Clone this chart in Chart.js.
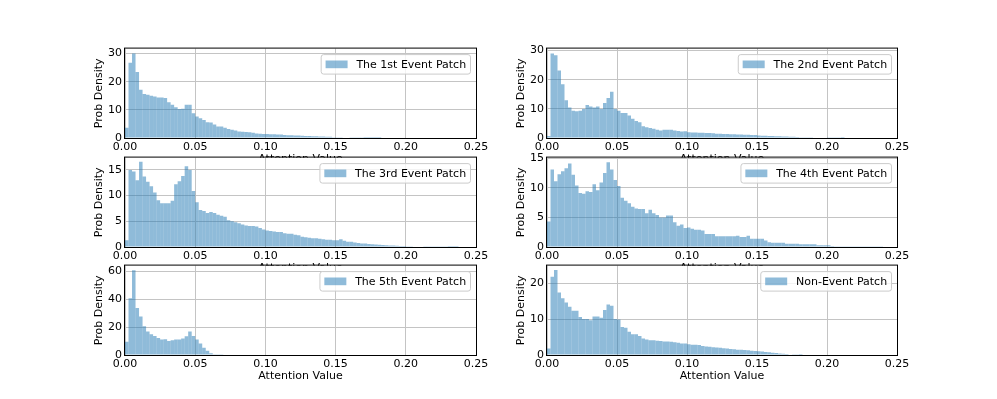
<!DOCTYPE html>
<html><head><meta charset="utf-8">
<script src="https://cdn.jsdelivr.net/npm/chart.js@4/dist/chart.umd.min.js"></script>
<style>
html,body{margin:0;padding:0;background:#fff;}
#wrap{position:relative;width:997px;height:399px;overflow:hidden;background:#fff;}
canvas{position:absolute;}
</style></head><body><div id="wrap"></div>
<script>
// ---------- data ----------
const BIN_WIDTH = 0.0025;                 // histogram bin width (attention value)
const xTickLabels = ['0.00','0.05','0.10','0.15','0.20','0.25'];
const seriesLabels = ['The 1st Event Patch','The 2nd Event Patch','The 3rd Event Patch',
                      'The 4th Event Patch','The 5th Event Patch','Non-Event Patch'];
const yAxisTitle = 'Prob Density';
const xAxisTitle = 'Attention Value';

const patch1 = [3.6,26.7,30.0,23.4,17.1,15.6,15.4,15.0,14.7,14.4,14.4,14.2,12.7,11.8,10.9,10.3,10.4,11.8,11.8,8.8,
  7.6,7.0,6.4,5.6,5.5,4.8,4.1,4.1,3.6,3.2,2.9,2.7,2.3,2.2,2.1,2.0,1.9,1.6,1.5,1.4,
  1.4,1.3,1.3,1.2,1.2,1.1,1.0,1.0,0.9,0.9,0.8,0.7,0.7,0.6,0.6,0.5,0.5,0.4,0.4,0.3,
  0.3,0.25,0.2,0.15,0.12,0.1,0.08,0.05,0.04,0.03,0.02,0.02,0.01];
const patch2 = [0.7,29.0,28.4,23.2,18.5,13.0,10.5,9.4,9.2,9.4,10.0,11.3,10.8,10.5,10.8,10.0,12.0,13.7,15.9,10.0,
  9.4,8.6,8.6,7.7,6.6,5.8,5.4,4.0,3.7,3.4,3.2,2.8,2.6,2.8,2.8,2.8,2.6,2.4,2.2,2.3,
  2.0,1.9,1.9,1.8,1.8,1.7,1.7,1.6,1.5,1.5,1.4,1.4,1.3,1.3,1.2,1.2,1.1,1.1,1.0,1.0,
  0.9,0.8,0.8,0.7,0.7,0.6,0.6,0.5,0.5,0.4,0.4,0.35,0.3,0.3,0.25,0.25,0.2,0.2,0.2,0.15,
  0.12,0.1,0.08,0.05,0.03];
const patch3 = [1.3,15.0,14.7,13.0,16.6,13.7,12.7,11.8,10.6,9.1,8.5,8.5,8.5,9.0,12.2,12.8,13.8,15.7,15.0,10.9,
  8.7,7.2,7.0,6.6,6.8,6.6,6.3,6.1,5.9,5.2,5.0,4.8,4.6,4.4,4.2,4.1,4.1,4.0,3.7,3.4,
  3.2,3.1,3.0,2.9,2.9,2.7,2.6,2.6,2.4,2.3,2.0,1.9,1.8,1.7,1.7,1.6,1.5,1.4,1.4,1.3,
  1.3,1.5,1.2,1.0,1.0,0.9,0.8,0.7,0.7,0.6,0.55,0.5,0.45,0.4,0.35,0.3,0.27,0.25,0.2,0.18,
  0.15,0.13,0.12,0.1,0.08,0.07,0.06,0.05,0.04,0.04,0.03,0.03,0.02,0.02,0.01];
const patch4 = [4.3,13.1,11.1,12.3,12.8,13.3,14.1,12.2,10.4,9.1,9.0,9.4,9.3,10.6,9.6,10.9,12.5,14.3,13.1,11.3,
  10.3,8.3,7.8,7.4,6.8,6.5,6.4,6.4,5.7,6.3,5.7,5.4,5.0,5.0,5.3,5.3,4.2,3.6,3.8,3.2,
  3.3,3.1,2.9,2.9,2.8,2.2,2.2,2.2,1.8,1.8,1.8,1.8,1.8,1.8,1.9,1.7,1.7,1.9,1.4,1.4,
  1.4,1.4,1.1,0.8,0.7,0.7,0.7,0.7,0.55,0.55,0.55,0.55,0.45,0.45,0.45,0.45,0.45,0.3,0.3,0.3,
  0.3,0.15,0.05,0.05,0.05,0.05,0.05,0.05,0.05,0.05,0.05,0.05,0.05,0.05,0.05,0.05];
const patch5 = [9.4,40.7,60.7,33.6,27.5,20.5,16.9,14.8,13.6,12.2,11.1,11.3,10.1,10.6,11.1,11.1,11.8,13.4,16.9,13.6,
  11.1,8.2,5.2,3.1,1.2,0.5,0.2,0.1];
const nonEvent = [1.8,21.9,23.8,17.5,15.9,14.7,13.5,12.4,12.4,10.6,10.1,10.1,9.7,10.8,10.8,10.4,12.6,14.1,13.8,10.1,
  9.9,7.8,7.6,6.5,5.8,5.8,5.3,4.6,4.3,4.1,4.1,4.0,3.9,3.8,3.8,3.7,3.6,3.4,3.2,3.2,
  3.0,2.9,2.9,2.8,2.5,2.4,2.3,2.2,2.1,2.0,1.9,1.8,1.7,1.6,1.5,1.45,1.4,1.3,1.2,1.15,
  1.05,0.95,0.85,0.75,0.65,0.55,0.45,0.35,0.25,0.15,0.08,0.04,0.02];

const seriesValues = [patch1, patch2, patch3, patch4, patch5, nonEvent];
const yMax  = [31.75, 30.7, 17.4, 15.1, 64, 25];
const yStep = [10, 10, 5, 5, 20, 10];

// ---------- layout (pixels) ----------
const colLeft = [125, 547], colRight = [476, 897];
const rowTop = [47, 156, 264], rowBottom = [138, 247, 355];
const YW = 40, PT = 8, PR = 22, XH = 30;
const FONT = 'DejaVu Sans';
const barColor = 'rgba(31,119,180,0.5)';

const panelPlugin = {
  id: 'panel',
  beforeDraw(chart) {
    const {ctx, chartArea: a} = chart;
    ctx.save(); ctx.fillStyle = '#fff';
    ctx.fillRect(a.left, a.top, a.right - a.left, a.bottom - a.top);
    ctx.restore();
  },
  afterDraw(chart) {
    const {ctx, chartArea: a} = chart;
    ctx.save();
    // legend
    const ds = chart.data.datasets[0];
    const fs = 11;
    ctx.font = fs + 'px "' + FONT + '"';
    const tw = ctx.measureText(ds.label).width;
    const pad = 0.4 * fs, hl = 2 * fs, htp = 0.8 * fs, bap = 0.5 * fs;
    const bw = pad + hl + htp + tw + pad, bh = 19.5;
    const x1 = a.right - bap - bw, y1 = a.top + bap + 0.5;
    ctx.beginPath();
    ctx.roundRect(x1, y1, bw, bh, 2.5);
    ctx.fillStyle = 'rgba(255,255,255,0.8)'; ctx.fill();
    ctx.strokeStyle = '#cccccc'; ctx.lineWidth = 1; ctx.stroke();
    ctx.fillStyle = ds.backgroundColor;
    ctx.fillRect(x1 + pad, y1 + bh / 2 - 0.35 * fs, hl, 0.7 * fs);
    ctx.fillStyle = '#000'; ctx.textBaseline = 'middle'; ctx.textAlign = 'left';
    ctx.fillText(ds.label, x1 + pad + hl + htp, y1 + bh / 2 + 0.5);
    // frame
    ctx.strokeStyle = '#000'; ctx.lineWidth = 1;
    ctx.strokeRect(a.left - 0.5, a.top - 0.5, a.right - a.left + 1, a.bottom - a.top + 1);
    ctx.restore();
  }
};

const wrap = document.getElementById('wrap');
seriesValues.forEach((vals, i) => {
  const col = i % 2, row = Math.floor(i / 2);
  const L = colLeft[col], R = colRight[col], T = rowTop[row], B = rowBottom[row];
  const cv = document.createElement('canvas');
  const W = (R - L) + YW + PR, H = PT + (B - T) + XH;
  cv.width = W; cv.height = H;
  cv.style.width = W + 'px'; cv.style.height = H + 'px';
  cv.style.left = (L - YW) + 'px'; cv.style.top = (T - PT) + 'px';
  wrap.appendChild(cv);
  const pts = vals.map((v, k) => ({x: (k + 0.5) * BIN_WIDTH, y: v}));
  const tickFont = {family: FONT, size: 11};
  new Chart(cv, {
    type: 'bar',
    data: {datasets: [{label: seriesLabels[i], data: pts, backgroundColor: barColor,
      borderWidth: 0, inflateAmount: 0, barPercentage: 1.0, categoryPercentage: 1.0}]},
    options: {
      responsive: false, devicePixelRatio: 1, animation: false,
      layout: {padding: {left: 0, top: PT, right: PR, bottom: 0}},
      plugins: {legend: {display: false}, tooltip: {enabled: false}},
      scales: {
        x: {type: 'linear', min: 0, max: 0.25, offset: false, z: 1,
          grid: {offset: false, color: '#c4c4c4', lineWidth: 1, drawTicks: false},
          border: {display: false},
          afterBuildTicks: (s) => { s.ticks = xTickLabels.map(t => ({value: parseFloat(t)})); },
          ticks: {padding: 3, color: '#000', font: tickFont, maxRotation: 0, autoSkip: false,
            callback: (v, idx) => xTickLabels[idx]},
          title: {display: true, text: xAxisTitle, color: '#000', font: tickFont, padding: {top: 0, bottom: 2}},
          afterFit: (s) => { s.height = XH; }
        },
        y: {min: 0, max: yMax[i], z: 1,
          grid: {color: '#c4c4c4', lineWidth: 1, drawTicks: false},
          border: {display: false},
          ticks: {stepSize: yStep[i], includeBounds: false, padding: 3, color: '#000', font: tickFont},
          title: {display: true, text: yAxisTitle, color: '#000', font: tickFont, padding: {top: 8, bottom: 0}},
          afterFit: (s) => { s.width = YW; }
        }
      }
    },
    plugins: [panelPlugin]
  });
});
</script></body></html>
